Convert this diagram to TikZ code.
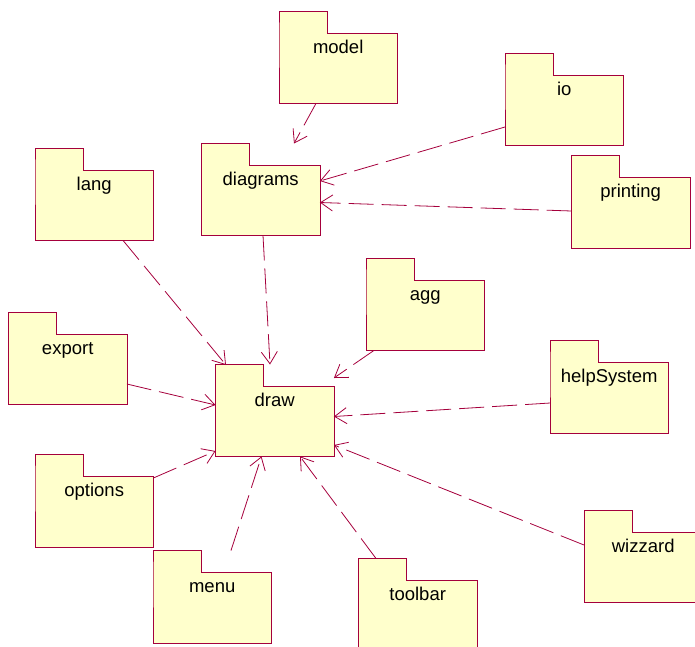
\documentclass[tikz,border=0pt]{standalone}
\usepackage{fontspec}
\setmainfont{Liberation Sans}
\usetikzlibrary{arrows.meta,calc}

\definecolor{pkgline}{RGB}{165,0,60}
\definecolor{pkgfill}{RGB}{255,255,204}

\begin{document}
\begin{tikzpicture}[x=1pt, y=-1pt,
	pkg/.style={fill=pkgfill, anchor=north west,
		minimum width=118pt, minimum height=70pt, inner sep=0pt,
		text height=15pt, text depth=45pt, font=\fontsize{18.5}{20}\selectfont},
	pkgtab/.style={fill=pkgfill, anchor=south west, yshift=-1pt,
		minimum width=47.5pt, minimum height=22.5pt, inner sep=0pt},
	pkgedge/.style={draw=pkgline, line width=0.8pt},
	dep/.style={color=pkgline, line width=0.8pt, dash pattern=on 25pt off 8pt,
		-{Straight Barb[length=12pt,width=16pt]}}]
				\clip (0,0) rectangle (695,646);
				
				% packages
				\node[pkg] (model) at (279,33) {model};
				\node[pkgtab] (model_tab) at (model.north west) {};
				\node[pkg] (diagrams) at (201.5,165) {diagrams};
				\node[pkgtab] (diagrams_tab) at (diagrams.north west) {};
				\node[pkg] (io) at (505,75) {io};
				\node[pkgtab] (io_tab) at (io.north west) {};
				\node[pkg] (printing) at (571.5,177.5) {printing};
				\node[pkgtab] (printing_tab) at (printing.north west) {};
				\node[pkg] (lang) at (35,170) {lang};
				\node[pkgtab] (lang_tab) at (lang.north west) {};
				\node[pkg] (export) at (8.5,334) {export};
				\node[pkgtab] (export_tab) at (export.north west) {};
				\node[pkg] (draw) at (215.5,386) {draw};
				\node[pkgtab] (draw_tab) at (draw.north west) {};
				\node[pkg] (agg) at (366,280) {agg};
				\node[pkgtab] (agg_tab) at (agg.north west) {};
				\node[pkg] (helpSystem) at (550,362.5) {helpSystem};
				\node[pkgtab] (helpSystem_tab) at (helpSystem.north west) {};
				\node[pkg] (options) at (35,476.5) {options};
				\node[pkgtab] (options_tab) at (options.north west) {};
				\node[pkg] (menu) at (153,572.5) {menu};
				\node[pkgtab] (menu_tab) at (menu.north west) {};
				\node[pkg] (toolbar) at (358.5,580) {toolbar};
				\node[pkgtab] (toolbar_tab) at (toolbar.north west) {};
				\node[pkg] (wizzard) at (584,532) {wizzard};
				\node[pkgtab] (wizzard_tab) at (wizzard.north west) {};
				
				% outlines: tab and body as one shape
				\foreach \p in {model,diagrams,io,printing,lang,export,draw,agg,helpSystem,options,menu,toolbar,wizzard}
					\draw[pkgedge] (\p.north west) |- (\p_tab.north east) |- (\p.north east) |- (\p.south west) -- cycle;
				
				% dependencies
				\path[dep]
				($(model.south west)+(37,0)$) edge ($(diagrams.north west)+(92.5,-21.5)$)
				($(io.north west)+(0,52)$) edge ($(diagrams.north east)+(0,16)$)
				($(printing.north west)+(0,33.5)$) edge ($(diagrams.north east)+(0,37.5)$)
				($(diagrams.south west)+(61.5,0)$) edge ($(draw.north west)+(54.5,-21.5)$)
				($(lang.south west)+(88,0)$) edge ($(draw.north west)+(10.5,-21)$)
				($(export.north east)+(0,50)$) edge ($(draw.north west)+(0,19)$)
				($(options.north east)+(0,1.5)$) edge ($(draw.north west)+(0,65)$)
				($(menu.north west)+(78,-22)$) edge ($(draw.south west)+(46,0)$)
				($(toolbar.north west)+(17.5,-21.5)$) edge ($(draw.south west)+(84.5,0)$)
				($(wizzard.north west)+(0,13)$) edge ($(draw.north east)+(0,59)$)
				($(helpSystem.north west)+(0,40.5)$) edge ($(draw.north east)+(0,30.5)$)
				($(agg.south west)+(8,0)$) edge ($(draw.north east)+(0,-8)$)
				;
\end{tikzpicture}
\end{document}
